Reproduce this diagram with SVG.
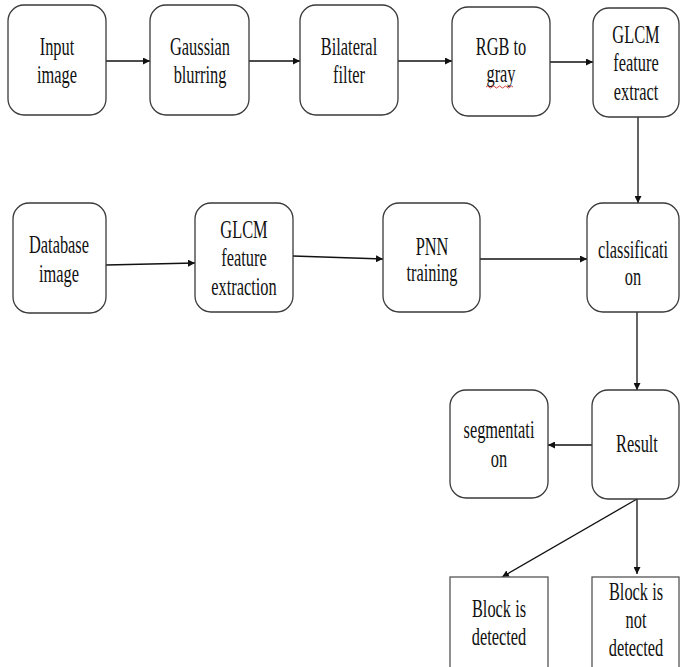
<svg xmlns="http://www.w3.org/2000/svg" width="680" height="667" viewBox="0 0 680 667">
<defs>
<style>
.box{fill:#fff;stroke:#3a3a3a;stroke-width:1.3}
.rect{fill:#fff;stroke:#555;stroke-width:1.3}
.t{font-family:"Liberation Serif","Times New Roman",serif;font-size:26px;fill:#111;text-anchor:middle}
.c{stroke:#111;stroke-width:1.3;fill:none}
</style>
<marker id="ah" viewBox="0 0 10 10" refX="10" refY="5" markerWidth="7" markerHeight="7" markerUnits="userSpaceOnUse" orient="auto">
<path d="M0,0 L10,5 L0,10 z" fill="#111"/>
</marker>
</defs>
<rect width="680" height="667" fill="#fff"/>

<g id="connectors">
<line class="c" x1="106" y1="61" x2="150" y2="61" marker-end="url(#ah)"/>
<line class="c" x1="249" y1="61" x2="300" y2="61" marker-end="url(#ah)"/>
<line class="c" x1="398" y1="61" x2="452" y2="61" marker-end="url(#ah)"/>
<line class="c" x1="550" y1="62" x2="593" y2="62" marker-end="url(#ah)"/>
<line class="c" x1="638" y1="117" x2="638" y2="203" marker-end="url(#ah)"/>
<line class="c" x1="106" y1="265" x2="195" y2="263" marker-end="url(#ah)"/>
<line class="c" x1="293" y1="256" x2="383" y2="259" marker-end="url(#ah)"/>
<line class="c" x1="480" y1="259" x2="587" y2="259" marker-end="url(#ah)"/>
<line class="c" x1="637" y1="312" x2="637" y2="390" marker-end="url(#ah)"/>
<line class="c" x1="592" y1="445" x2="548" y2="445" marker-end="url(#ah)"/>
<line class="c" x1="637" y1="499" x2="502" y2="577" marker-end="url(#ah)"/>
<line class="c" x1="637" y1="499" x2="637" y2="574" marker-end="url(#ah)"/>
</g>

<g id="input">
<rect class="box" x="8" y="5" width="98" height="110" rx="16"/>
<text class="t" transform="translate(57,55) scale(0.63,1)"><tspan x="0">Input</tspan><tspan x="0" dy="28">image</tspan></text>
</g>
<g id="gaussian">
<rect class="box" x="150" y="5" width="99" height="110" rx="16"/>
<text class="t" transform="translate(200,55) scale(0.63,1)"><tspan x="0">Gaussian</tspan><tspan x="0" dy="28">blurring</tspan></text>
</g>
<g id="bilateral">
<rect class="box" x="300" y="5" width="98" height="110" rx="16"/>
<text class="t" transform="translate(349,55) scale(0.63,1)"><tspan x="0">Bilateral</tspan><tspan x="0" dy="28">filter</tspan></text>
</g>
<g id="rgb">
<rect class="box" x="452" y="7" width="98" height="109" rx="16"/>
<text class="t" transform="translate(501,55) scale(0.63,1)"><tspan x="0">RGB to</tspan><tspan x="0" dy="27">gray</tspan></text>
<path d="M486,87 q1.5,-2 3,0 t3,0 t3,0 t3,0 t3,0 t3,0 t3,0 t3,0 t3,0" fill="none" stroke="#d03030" stroke-width="0.9"/>
</g>
<g id="glcm1">
<rect class="box" x="593" y="8" width="86" height="109" rx="16"/>
<text class="t" transform="translate(636,43) scale(0.63,1)"><tspan x="0">GLCM</tspan><tspan x="0" dy="28.5">feature</tspan><tspan x="0" dy="28.5">extract</tspan></text>
</g>

<g id="database">
<rect class="box" x="13" y="203" width="93" height="110" rx="16"/>
<text class="t" transform="translate(59,253) scale(0.63,1)"><tspan x="0">Database</tspan><tspan x="0" dy="29">image</tspan></text>
</g>
<g id="glcm2">
<rect class="box" x="195" y="203" width="98" height="109" rx="16"/>
<text class="t" transform="translate(244,238) scale(0.63,1)"><tspan x="0">GLCM</tspan><tspan x="0" dy="28.5">feature</tspan><tspan x="0" dy="28.5">extraction</tspan></text>
</g>
<g id="pnn">
<rect class="box" x="383" y="203" width="97" height="109" rx="16"/>
<text class="t" transform="translate(432,255) scale(0.63,1)"><tspan x="0">PNN</tspan><tspan x="0" dy="26">training</tspan></text>
</g>
<g id="classification">
<rect class="box" x="587" y="203" width="92" height="109" rx="16"/>
<text class="t" transform="translate(633,258) scale(0.63,1)"><tspan x="0">classificati</tspan><tspan x="0" dy="27">on</tspan></text>
</g>

<g id="segmentation">
<rect class="box" x="450" y="390" width="98" height="108" rx="16"/>
<text class="t" transform="translate(499,438) scale(0.63,1)"><tspan x="0">segmentati</tspan><tspan x="0" dy="29">on</tspan></text>
</g>
<g id="result">
<rect class="box" x="592" y="390" width="87" height="109" rx="16"/>
<text class="t" transform="translate(637,452) scale(0.63,1)">Result</text>
</g>

<g id="detected">
<rect class="rect" x="450" y="577" width="98" height="100"/>
<text class="t" transform="translate(499,617) scale(0.63,1)"><tspan x="0">Block is</tspan><tspan x="0" dy="28">detected</tspan></text>
</g>
<g id="notdetected">
<rect class="rect" x="592" y="577" width="87" height="100"/>
<text class="t" transform="translate(636,600) scale(0.63,1)"><tspan x="0">Block is</tspan><tspan x="0" dy="28">not</tspan><tspan x="0" dy="28">detected</tspan></text>
</g>
</svg>
